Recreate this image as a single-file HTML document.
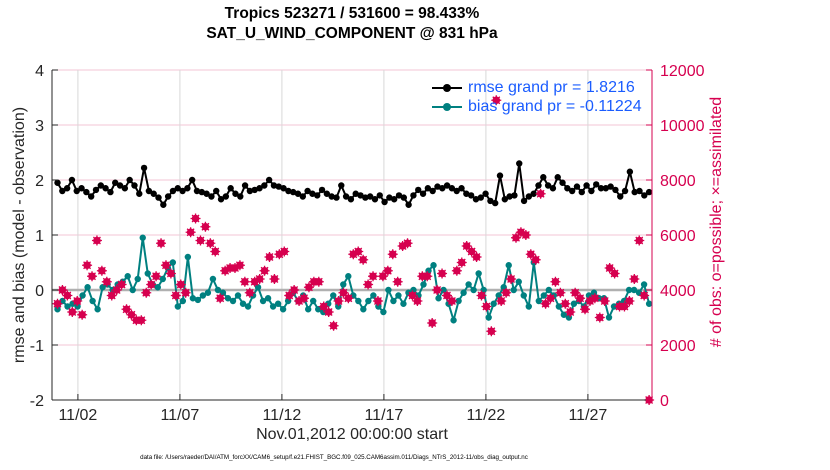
<!DOCTYPE html>
<html><head><meta charset="utf-8"><style>
body{margin:0;background:#fff;width:830px;height:470px;overflow:hidden;font-family:"Liberation Sans",sans-serif}
.rot{position:absolute;width:400px;height:20px;line-height:20px;text-align:center;transform:rotate(-90deg);white-space:nowrap;font-size:16px}
</style></head><body>
<svg id="chart" width="830" height="470" xmlns="http://www.w3.org/2000/svg" font-family="Liberation Sans, sans-serif" style="position:absolute;left:0;top:0"></svg>
<script>
const rmse=[1.95,1.8,1.85,2.0,1.8,1.85,1.78,1.7,1.82,1.9,1.85,1.78,1.95,1.9,1.85,2.0,1.9,1.75,2.22,1.8,1.75,1.68,1.55,1.7,
1.8,1.85,1.8,1.85,2.0,1.8,1.78,1.75,1.7,1.8,1.65,1.7,1.85,1.75,1.7,1.9,1.8,1.82,1.85,1.9,2.0,1.9,1.88,1.85,1.8,
1.78,1.75,1.7,1.8,1.75,1.72,1.82,1.75,1.7,1.68,1.9,1.7,1.65,1.75,1.72,1.68,1.7,1.65,1.72,1.6,1.68,1.65,1.72,1.68,1.55,
1.72,1.82,1.75,1.85,1.8,1.88,1.85,1.9,1.85,1.8,1.85,1.75,1.72,1.65,1.68,1.75,1.62,1.58,2.08,1.65,1.7,1.72,2.3,1.62,
1.7,1.75,1.9,2.05,1.9,1.85,2.05,1.95,1.85,1.8,1.88,1.78,1.9,1.8,1.92,1.85,1.85,1.88,1.82,1.7,1.8,2.15,1.78,1.8,1.72,1.78];
const bias=[-0.35,-0.2,-0.3,-0.25,-0.3,-0.1,0.05,-0.2,-0.35,0.05,0.1,0.0,0.1,0.15,0.25,0.0,0.2,0.95,0.3,0.1,0.05,0.2,0.4,0.5,-0.3,-0.2,0.6,-0.15,-0.18,-0.1,-0.05,0.2,0.0,-0.05,-0.15,-0.2,-0.1,-0.25,-0.3,-0.1,0.05,-0.2,-0.15,-0.3,-0.25,-0.35,-0.2,-0.05,-0.2,-0.1,-0.35,-0.2,-0.35,-0.4,-0.25,-0.1,-0.3,0.1,0.25,-0.1,-0.2,-0.35,-0.2,-0.1,-0.3,-0.4,0.0,-0.2,-0.1,-0.25,-0.05,0.0,-0.1,0.1,0.35,0.45,-0.15,0.0,-0.25,-0.55,-0.2,-0.05,0.1,0.0,0.3,0.0,-0.5,-0.25,-0.1,0.05,0.45,0.0,0.15,-0.1,-0.3,0.5,-0.2,-0.1,0.0,-0.1,-0.3,-0.45,-0.5,-0.25,-0.2,-0.3,-0.1,-0.05,-0.15,-0.15,-0.5,-0.3,-0.25,-0.2,0.0,0.0,-0.05,0.1,-0.25];
const obs=[3500,4000,3800,3200,3600,3100,4900,4500,5800,4700,4300,3800,4000,4200,3300,3100,2900,2900,3900,4200,4500,5700,4900,4600,3800,4200,3900,6100,6600,5800,6300,5700,5400,3700,4700,4800,4800,4900,4300,3900,4300,4400,4700,5200,4400,5300,5400,3800,4000,3600,3700,4100,4300,4300,3400,3200,2700,3600,3900,3700,5300,5400,5100,4200,4500,3600,4500,4700,5300,4300,5600,5700,3800,3600,4500,4500,2800,4000,4600,3800,3600,4700,5000,5600,5400,5200,3800,3400,2500,10900,3600,3900,4400,5900,6100,6000,5300,5100,7500,3500,3700,4300,3900,3500,3200,3900,3700,3300,3600,3700,3000,3600,4800,4600,3400,3400,3600,4400,5800,3800,0];
const yTicksL=[-2,-1,0,1,2,3,4];
const yTicksR=[0,2000,4000,6000,8000,10000,12000];
const xTickDays=[2,7,12,17,22,27];
const xTickLabels=["11/02","11/07","11/12","11/17","11/22","11/27"];
const dayStart=1, dayEnd=30;

const svg=document.getElementById('chart');
const NS='http://www.w3.org/2000/svg';
const L=52,R=652,T=70,B=400;
const xs=d=>L+(d-0.73)*20.4;
const yL=v=>B-(v+2)*(B-T)/6;
const yR=v=>B-v*(B-T)/12000;
function mk(tag,a,p){const e=document.createElementNS(NS,tag);for(const k in a)e.setAttribute(k,a[k]);(p||svg).appendChild(e);return e;}
function dayOf(i,n){return dayStart+i*(dayEnd-dayStart)/(n-1);}

const grid=mk('g',{});


yTicksL.forEach(v=>mk('line',{x1:L,x2:R,y1:yL(v),y2:yL(v),stroke:'#f3c6d6','stroke-width':1},grid));
xTickDays.forEach(d=>mk('line',{x1:xs(d),x2:xs(d),y1:T,y2:B,stroke:'#d8d8d8','stroke-width':1},grid));
const zl=mk('line',{x1:L,x2:R,y1:yL(0),y2:yL(0),stroke:'#b0b0b0','stroke-width':2.5});



const rg=mk('g',{});


mk('polyline',{points:rmse.map((v,i)=>xs(dayOf(i,rmse.length))+','+yL(v)).join(' '),fill:'none',stroke:'#000','stroke-width':2},rg);
rmse.forEach((v,i)=>mk('circle',{cx:xs(dayOf(i,rmse.length)),cy:yL(v),r:3.2,fill:'#000'},rg));
const bg=mk('g',{});


mk('polyline',{points:bias.map((v,i)=>xs(dayOf(i,bias.length))+','+yL(v)).join(' '),fill:'none',stroke:'#008080','stroke-width':2},bg);
bias.forEach((v,i)=>mk('circle',{cx:xs(dayOf(i,bias.length)),cy:yL(v),r:3.2,fill:'#008080'},bg));
const og=mk('g',{});


obs.forEach((v,i)=>{const x=xs(dayOf(i,obs.length)),y=yR(v);
 mk('circle',{cx:x,cy:y,r:3.8,fill:'#d6004f'},og);
 mk('path',{d:`M${x-5} ${y}H${x+5}M${x} ${y-5}V${y+5}M${x-3.5} ${y-3.5}L${x+3.5} ${y+3.5}M${x+3.5} ${y-3.5}L${x-3.5} ${y+3.5}`,stroke:'#d6004f','stroke-width':1.3},og);});

const ax=mk('g',{});


mk('line',{x1:L,x2:L,y1:T,y2:B,stroke:'#262626','stroke-width':1},ax);
mk('line',{x1:L,x2:R,y1:B,y2:B,stroke:'#262626','stroke-width':1},ax);
mk('line',{x1:R,x2:R,y1:T,y2:B,stroke:'#d6004f','stroke-width':1},ax);
yTicksL.forEach(v=>{mk('line',{x1:L,x2:L+6,y1:yL(v),y2:yL(v),stroke:'#262626'},ax);
 const t=mk('text',{x:L-8,y:yL(v)+6,'text-anchor':'end','font-size':16,fill:'#262626'},ax);t.textContent=v;});
yTicksR.forEach(v=>{mk('line',{x1:R-6,x2:R,y1:yR(v),y2:yR(v),stroke:'#d6004f'},ax);
 const t=mk('text',{x:R+8,y:yR(v)+6,'font-size':16,fill:'#d6004f'},ax);t.textContent=v;});
xTickDays.forEach((d,i)=>{mk('line',{x1:xs(d),x2:xs(d),y1:B,y2:B-6,stroke:'#262626'},ax);
 const t=mk('text',{x:xs(d),y:B+20,'text-anchor':'middle','font-size':16,fill:'#262626'},ax);t.textContent=xTickLabels[i];});
</script>
<div style="position:absolute;left:0;width:704px;top:4px;text-align:center;font-weight:bold;font-size:15.5px;line-height:20px;color:#000">Tropics 523271 / 531600 = 98.433%<br>SAT_U_WIND_COMPONENT @ 831 hPa</div>
<div class="rot" style="left:-180px;top:225px;color:#262626">rmse and bias (model - observation)</div>
<div class="rot" style="left:517px;top:212px;color:#d6004f"># of obs: o=possible; ×=assimilated</div>
<div style="position:absolute;left:352px;top:426px;transform:translateX(-50%);white-space:nowrap;font-size:16px;color:#262626">Nov.01,2012 00:00:00 start</div>
<div style="position:absolute;left:334px;top:454px;transform:translateX(-50%);white-space:nowrap;font-size:6.2px;color:#000">data file: /Users/raeder/DAI/ATM_forcXX/CAM6_setup/f.e21.FHIST_BGC.f09_025.CAM6assim.011/Diags_NTrS_2012-11/obs_diag_output.nc</div>
<div style="position:absolute;left:430px;top:78px;font-size:16px;line-height:19px;color:#1a5cff">
 <div style="position:relative;padding-left:38px"><span style="position:absolute;left:2px;top:9px;width:30px;height:2px;background:#000"></span><span style="position:absolute;left:13px;top:6px;width:8px;height:8px;border-radius:50%;background:#000"></span>rmse grand pr = 1.8216</div>
 <div style="position:relative;padding-left:38px"><span style="position:absolute;left:2px;top:9px;width:30px;height:2px;background:#008080"></span><span style="position:absolute;left:13px;top:6px;width:8px;height:8px;border-radius:50%;background:#008080"></span>bias grand pr = -0.11224</div>
</div>
</body></html>
